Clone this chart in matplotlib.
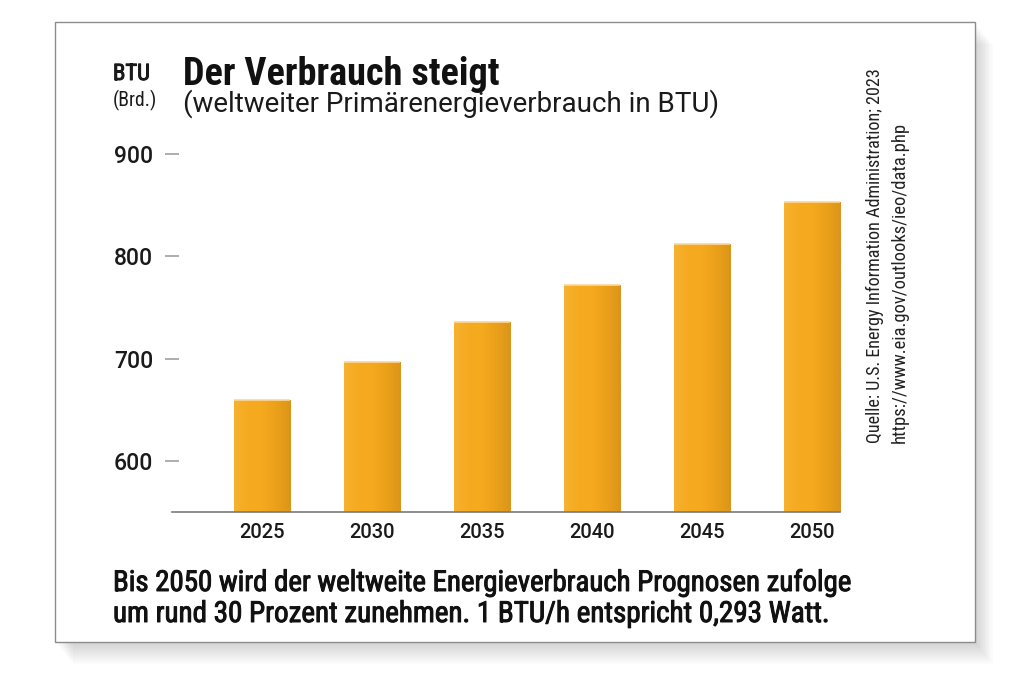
import matplotlib
matplotlib.use('Agg')
import matplotlib.pyplot as plt
import numpy as np
from matplotlib import font_manager as fm
from matplotlib.patches import Rectangle
from matplotlib.colors import LinearSegmentedColormap
import matplotlib.patheffects as pe

# ---- data ----
years = ['2025', '2030', '2035', '2040', '2045', '2050']
values = [660, 697, 736, 772, 812, 853]
yticks = [600, 700, 800, 900]

title = 'Der Verbrauch steigt'
subtitle = '(weltweiter Primärenergieverbrauch in BTU)'
unit1 = 'BTU'
unit2 = '(Brd.)'
source1 = 'Quelle: U.S. Energy Information Administration; 2023'
source2 = 'https://www.eia.gov/outlooks/ieo/data.php'
caption1 = 'Bis 2050 wird der weltweite Energieverbrauch Prognosen zufolge'
caption2 = 'um rund 30 Prozent zunehmen. 1 BTU/h entspricht 0,293 Watt.'

# ---- fonts ----
names = {f.name for f in fm.fontManager.ttflist}
def pick(cands, default):
    for c in cands:
        if c in names:
            return c
    return default
COND = pick(['Roboto Condensed', 'Liberation Sans Narrow', 'Open Sans Condensed'], 'Roboto')
REG = pick(['Roboto', 'Open Sans'], 'DejaVu Sans')

W, H = 1024, 677
fig = plt.figure(figsize=(W / 100, H / 100), dpi=100)
fig.patch.set_facecolor('white')

def fx(px):
    return px / W

def fy(py):
    return 1 - py / H

# ---- frame with shadow ----
x0, y0, x1, y1 = 55, 22, 975, 642
for off in range(2, 24, 2):
    fig.patches.append(Rectangle((fx(x0 + off * 0.8), fy(y1 + off)), fx(x1 - x0), (y1 - y0) / H,
                                 transform=fig.transFigure, facecolor='#000000',
                                 alpha=0.016, edgecolor='none', zorder=0))
fig.patches.append(Rectangle((fx(x0), fy(y1)), fx(x1 - x0), (y1 - y0) / H,
                             transform=fig.transFigure, facecolor='white',
                             edgecolor='#8c8c8c', linewidth=1.0, zorder=1))

# ---- axes ----
ax = fig.add_axes([fx(172), fy(512), fx(840) - fx(172), (512 - 103) / H])
ax.set_facecolor('none')
ax.set_zorder(2)
x = np.arange(len(years))
bars = ax.bar(x, values, width=0.51, color='#F5A91F', edgecolor='none', zorder=2)
ax.set_xlim(-0.818, 5.255)
ax.set_ylim(550, 950)

# gradient shading on bars
cmap = LinearSegmentedColormap.from_list('barg', ['#F6B230', '#F5AA20', '#F5A91F', '#EBA01A', '#DA951A'])
grad = np.linspace(0, 1, 256).reshape(1, -1)
for b in bars:
    im = ax.imshow(grad, extent=(b.get_x(), b.get_x() + b.get_width(), 550, b.get_height()),
                   aspect='auto', cmap=cmap, zorder=3, interpolation='bicubic')
    im.set_clip_path(b)
ax.hlines(values, [b.get_x() for b in bars], [b.get_x() + b.get_width() for b in bars],
          colors='#FCD79A', linewidth=1.2, zorder=4)

for s in ['top', 'right', 'left']:
    ax.spines[s].set_visible(False)
ax.spines['bottom'].set_color('#7a7a7a')
ax.spines['bottom'].set_linewidth(1.2)
ax.spines['bottom'].set_zorder(5)

ax.set_yticks(yticks)
ax.set_yticklabels([str(v) for v in yticks])
ax.set_xticks(x)
ax.set_xticklabels(years)
ax.tick_params(axis='y', direction='inout', length=10, width=1.2, color='#a0a0a0', pad=8.6)
ax.tick_params(axis='x', length=0, pad=8)
for lab in ax.get_yticklabels():
    lab.set_fontfamily(REG)
    lab.set_fontweight('medium')
    lab.set_fontsize(16.5)
    lab.set_color('#1a1a1a')
for lab in ax.get_xticklabels():
    lab.set_fontfamily(REG)
    lab.set_fontweight('medium')
    lab.set_fontsize(14.5)
    lab.set_color('#1a1a1a')

# ---- texts ----
texts = []
def add(px, py, s, target, size, rot=0, **kw):
    t = fig.text(fx(px), fy(py), s, rotation=rot, rotation_mode='anchor',
                 ha='left', va='baseline', fontsize=size, zorder=6, **kw)
    texts.append((t, target, rot))
    return t

semi = [pe.withStroke(linewidth=0.7, foreground='#111111')]
add(113, 80, unit1, 37, 15, family=COND, weight='normal', color='#1a1a1a', path_effects=semi)
add(113, 106, unit2, 44, 13, family=COND, weight='normal', color='#1a1a1a')
add(183, 85, title, 317, 28, family=COND, weight='bold', color='#111111')
add(183, 112, subtitle, 539, 17, family=REG, color='#1a1a1a')
add(880, 443, source1, 374, 13, rot=90, family=COND, color='#222222')
add(905, 443, source2, 318, 13, rot=90, family=COND, color='#222222')
add(113, 591, caption1, 739, 18, family=COND, weight='normal', color='#111111', path_effects=semi)
add(113, 622, caption2, 717, 18, family=COND, weight='normal', color='#111111', path_effects=semi)

fig.canvas.draw()
r = fig.canvas.get_renderer()
for t, target, rot in texts:
    bb = t.get_window_extent(r)
    w = bb.width if rot == 0 else bb.height
    if w > 0:
        t.set_fontsize(t.get_fontsize() * target / w)

fig.savefig('out.png', dpi=100, facecolor='white')
